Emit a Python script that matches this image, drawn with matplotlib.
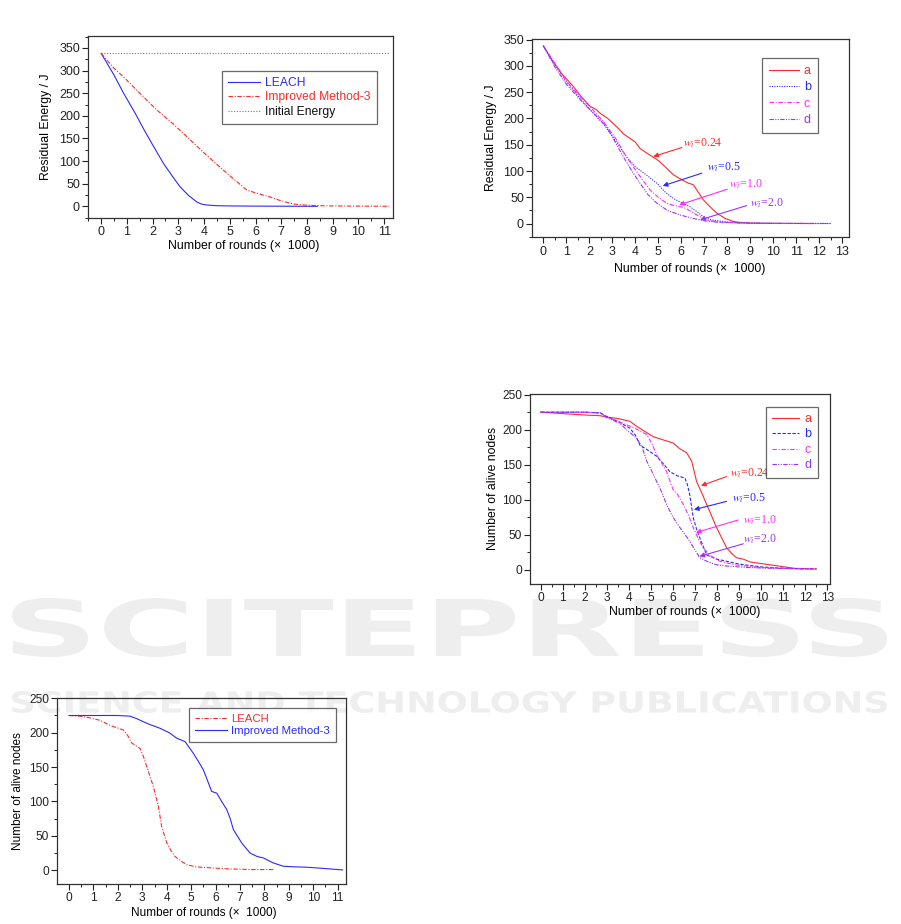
import matplotlib
matplotlib.use("Agg")
import matplotlib.pyplot as plt
from matplotlib.textpath import TextPath
from matplotlib.patches import PathPatch
from matplotlib.font_manager import FontProperties
from matplotlib.transforms import Affine2D
from matplotlib.ticker import MultipleLocator

plt.rcParams["font.family"] = ["Liberation Sans", "DejaVu Sans"]
plt.rcParams["mathtext.fontset"] = "stix"

# ================== DATA ==================

# residual energy, LEACH vs improved method
leach_x = [0, 0.5, 0.87, 1.3, 1.64, 2.0, 2.42, 2.8, 3.07, 3.4, 3.71, 3.9, 4.1, 4.5, 5, 6, 7, 8, 8.4]
leach_e = [338, 290, 250, 208, 172, 136, 95, 64, 43, 24, 10, 5, 3, 1.5, 1, 0.6, 0.4, 0.2, 0.1]
imp_x = [0, 0.5, 0.87, 1.5, 2.16, 2.8, 3.33, 4.0, 4.75, 5.2, 5.66, 6.1, 6.56, 7.0, 7.5, 8.0, 8.5, 9, 10, 11.2]
imp_e = [338, 305, 286, 250, 213, 182, 154, 118, 80, 58, 36, 28, 21, 12, 5, 2.5, 1.5, 1, 0.5, 0.3]
init_x = [0, 11.2]
init_e = [338, 338]

# residual energy for different w_i
ea_x = [0, 0.37, 0.8, 1.3, 1.6, 2.03, 2.3, 2.46, 2.8, 3.19, 3.5, 3.77, 4.0, 4.2, 4.5, 4.86, 5.0, 5.3,
        5.65, 6.0, 6.3, 6.52, 6.7, 6.96, 7.2, 7.54, 7.9, 8.26, 8.6, 9.0, 9.5, 10.5, 11.7]
ea_y = [338, 311, 285, 261, 244, 223, 217, 210, 200, 184, 170, 162, 155, 143, 134, 124, 120, 108,
        93, 84, 77, 74, 62, 45, 34, 20, 10, 4, 2, 1, 0.5, 0.3, 0.2]
eb_x = [0, 0.5, 1.0, 1.5, 2.0, 2.6, 3.19, 3.6, 4.0, 4.5, 4.93, 5.3, 5.65, 6.0, 6.38, 6.7, 6.96, 7.3,
        8.0, 9, 10.5, 12.5]
eb_y = [338, 303, 270, 243, 218, 190, 155, 128, 108, 92, 77, 60, 48, 40, 32, 22, 13, 7,
        3, 1, 0.4, 0.2]
ec_x = [0, 0.5, 1.0, 1.5, 2.03, 2.6, 3.19, 3.5, 3.91, 4.3, 4.64, 5.0, 5.36, 5.7, 6.09, 6.4, 6.67,
        7.1, 7.6, 8.5, 10, 12.0]
ec_y = [338, 305, 272, 246, 222, 195, 159, 135, 108, 84, 64, 50, 39, 34, 31, 24, 16.5,
        7, 3, 1, 0.4, 0.2]
ed_x = [0, 0.5, 1.0, 1.74, 2.3, 2.76, 3.0, 3.48, 3.85, 4.2, 4.55, 4.93, 5.4, 5.94, 6.5, 6.96, 7.5,
        8.5, 10, 12.5]
ed_y = [338, 298, 265, 229, 205, 184, 165, 127, 100, 77, 55, 39, 25, 16.5, 10, 5.7, 3,
        1.5, 0.5, 0.2]

# alive nodes for different w_i
na_x = [0, 0.5, 1.0, 1.5, 2.0, 2.69, 3.0, 3.5, 4.05, 4.3, 4.5, 4.8, 5.11, 5.5, 6.01, 6.3, 6.62,
        6.85, 7.07, 7.3, 7.53, 7.75, 7.98, 8.2, 8.44, 8.7, 8.89, 9.2, 9.5, 9.95, 10.4, 10.85, 11.5, 12.5]
na_y = [225, 224, 223, 222, 221, 220, 218, 216, 212, 206, 202, 196, 190, 186, 181, 173, 167,
        155, 126, 110, 93, 77, 60, 46, 31, 22, 17, 15, 11, 9, 7, 5, 2, 1]
nb_x = [0, 1.0, 2.0, 2.7, 2.99, 3.5, 4.05, 4.3, 4.5, 4.9, 5.26, 5.6, 5.86, 6.2, 6.54, 6.65, 6.76,
        6.92, 7.07, 7.22, 7.53, 8.0, 8.44, 9.0, 10, 11, 12.5]
nb_y = [225, 225, 225, 224, 219, 212, 202, 192, 178, 170, 162, 150, 140, 134, 131, 122, 107,
        74, 58, 45, 21, 15, 12, 8, 4, 2, 1]
nc_x = [0, 1.0, 2.0, 2.7, 3.0, 3.5, 3.9, 4.4, 4.81, 5.05, 5.26, 5.5, 5.71, 6.01, 6.2, 6.47, 6.7,
        6.92, 7.15, 7.37, 7.7, 8.13, 8.8, 10, 11, 12.5]
nc_y = [225, 225, 225, 224, 218, 212, 207, 200, 193, 180, 164, 152, 140, 114, 108, 93, 78,
        60, 44, 31, 20, 12, 7, 3, 2, 1]
nd_x = [0, 1.0, 2.0, 2.7, 3.0, 3.6, 4.0, 4.35, 4.6, 4.81, 5.05, 5.26, 5.5, 5.71, 6.0, 6.32, 6.55,
        6.77, 7.0, 7.22, 7.6, 7.98, 8.5, 9.5, 10.5, 12.0]
nd_y = [225, 225, 225, 224, 217, 209, 197, 188, 175, 155, 140, 126, 110, 93, 75, 60, 50,
        40, 28, 17, 11, 7, 5, 3, 2, 1]

# alive nodes, LEACH vs improved method
nleach_x = [0, 0.45, 0.8, 1.27, 1.6, 1.81, 2.22, 2.4, 2.57, 2.91, 3.05, 3.18, 3.45, 3.66, 3.79,
            4.0, 4.15, 4.34, 4.6, 4.82, 5.2, 5.77, 6.5, 7.5, 8.4]
nleach_y = [225, 224, 222, 218, 212, 209, 204, 196, 185, 177, 165, 151, 122, 93, 64,
            40, 30, 20, 13, 8, 5, 3.5, 2, 1, 1]
nimp_x = [0, 1.0, 2.0, 2.5, 2.8, 3.04, 3.3, 3.72, 4.1, 4.41, 4.75, 5.09, 5.3, 5.5, 5.84, 6.05,
          6.25, 6.46, 6.6, 6.73, 7.07, 7.41, 7.7, 7.95, 8.36, 8.77, 9.2, 9.73, 10.3, 11.0, 11.2]
nimp_y = [225, 225, 225, 224, 220, 216, 212, 206.5, 200, 192, 187, 170, 158, 146, 114.6, 112,
          100, 88, 75, 59, 39.7, 25, 20, 18, 10.7, 5.8, 5, 4.4, 3, 1, 0.5]

w_labels = ["0.24", "0.5", "1.0", "2.0"]
# (text x, text y, arrow tail x, tail y, head x, head y)
energy_notes = [(6.09, 153, 6.02, 144.6, 4.78, 127.5),
                (7.10, 108, 6.89, 95.9, 5.19, 71.7),
                (8.09, 74, 8.0, 65.4, 5.91, 35.6),
                (8.99, 39, 8.84, 34.3, 6.81, 7)]
nodes_notes = [(8.58, 138, 8.43, 133, 7.27, 120),
               (8.66, 102, 8.43, 97.6, 6.95, 85.7),
               (9.16, 71, 8.96, 71, 7.04, 53),
               (9.16, 43, 9.19, 37, 7.2, 19)]

RED = "#ff2a2a"
BLUE = "#2a2aff"
MAG = "#ff2aff"
PUR = "#9a33ff"
W_COLORS = [RED, BLUE, MAG, PUR]
DASHDOT = (0, (4, 1.5, 1, 1.5))
DASHDOTDOT = (0, (4, 1.2, 1, 1.2, 1, 1.2))

W, H = 901, 924
fig = plt.figure(figsize=(W / 100, H / 100), dpi=100)


def px_axes(x0, y0, x1, y1, tick_fs):
    ax = fig.add_axes([x0 / W, 1 - y1 / H, (x1 - x0) / W, (y1 - y0) / H])
    ax.set_facecolor("none")
    for s in ax.spines.values():
        s.set_color("#333333")
        s.set_linewidth(0.9)
    ax.tick_params(which="major", direction="out", length=4, width=0.8, labelsize=tick_fs, pad=2,
                   colors="#222222")
    ax.tick_params(which="minor", direction="out", length=2.2, width=0.7, colors="#222222")
    ax.xaxis.set_minor_locator(MultipleLocator(0.5))
    ax.yaxis.set_minor_locator(MultipleLocator(25))
    ax.yaxis.set_major_locator(MultipleLocator(50))
    ax.xaxis.set_major_locator(MultipleLocator(1))
    return ax


def style_legend(ax, anchor, fs, handlelength, colors, spacing=0.3, pad=0.6):
    leg = ax.legend(loc="upper right", bbox_to_anchor=anchor, fontsize=fs, frameon=True,
                    fancybox=False, edgecolor="#444444", handlelength=handlelength,
                    handletextpad=0.4, labelspacing=spacing, borderpad=pad, borderaxespad=0)
    leg.get_frame().set_linewidth(0.9)
    for t, c in zip(leg.get_texts(), colors):
        t.set_color(c)
    return leg


def annotate_w(ax, notes, fs):
    for (tx, ty, ax0, ay0, hx, hy), lab, c in zip(notes, w_labels, W_COLORS):
        ax.text(tx, ty, r"$w_i$=" + lab, color=c, fontsize=fs, ha="left", va="center",
                family="Liberation Serif")
        ax.annotate("", xy=(hx, hy), xytext=(ax0, ay0),
                    arrowprops=dict(arrowstyle="-|>", color=c, lw=0.8, mutation_scale=7,
                                    shrinkA=0, shrinkB=0))


def watermark(s, x0, y0, x1, y1):
    tp = TextPath((0, 0), s, size=100, prop=FontProperties(family="DejaVu Sans", weight="bold"))
    ext = tp.get_extents()
    tr = (Affine2D().translate(-ext.x0, -ext.y0)
          .scale((x1 - x0) / ext.width / W, (y1 - y0) / ext.height / H)
          .translate(x0 / W, 1 - y1 / H))
    patch = PathPatch(tr.transform_path(tp), facecolor="#eeeeee", edgecolor="none",
                      transform=fig.transFigure, zorder=-5)
    fig.add_artist(patch)


# ================== WATERMARK ==================

watermark("SCITEPRESS", 12, 598, 887, 657)
watermark("SCIENCE AND TECHNOLOGY PUBLICATIONS", 12, 691, 887, 713)

# ================== ENERGY: LEACH vs IMPROVED ==================

ax1 = px_axes(88.3, 35.7, 392.7, 217.7, 9)
ax1.plot(leach_x, leach_e, color=BLUE, lw=0.8, label="LEACH")
ax1.plot(imp_x, imp_e, color=RED, lw=0.8, linestyle=DASHDOT, label="Improved Method-3")
ax1.plot(init_x, init_e, color="#777777", lw=0.8, linestyle=(0, (1, 1.5)), label="Initial Energy")
ax1.set_xlim(-0.5, 11.33)
ax1.set_ylim(-25, 377)
ax1.set_xlabel("Number of rounds (\u00d7  1000)", fontsize=8.8)
ax1.set_ylabel("Residual Energy / J", fontsize=8.8)
ax1.xaxis.set_label_coords(0.511, -0.125)
ax1.yaxis.set_label_coords(-0.12, 0.5)
style_legend(ax1, (0.947, 0.806), 8.7, 2.7, [BLUE, RED, "#111111"], spacing=0.2, pad=0.5)

# ================== ENERGY: DIFFERENT W ==================

ax2 = px_axes(532.3, 39, 849, 237.3, 9)
ax2.plot(ea_x, ea_y, color=RED, lw=0.8, label="a")
ax2.plot(eb_x, eb_y, color=BLUE, lw=0.8, linestyle=(0, (1, 1.2)), label="b")
ax2.plot(ec_x, ec_y, color=MAG, lw=0.8, linestyle=DASHDOT, label="c")
ax2.plot(ed_x, ed_y, color=PUR, lw=0.8, linestyle=DASHDOTDOT, label="d")
ax2.set_xlim(-0.48, 13.29)
ax2.set_ylim(-26, 351)
ax2.set_xlabel("Number of rounds (\u00d7  1000)", fontsize=8.8)
ax2.set_ylabel("Residual Energy / J", fontsize=8.8)
ax2.xaxis.set_label_coords(0.496, -0.13)
ax2.yaxis.set_label_coords(-0.112, 0.5)
style_legend(ax2, (0.901, 0.903), 9, 2.4, W_COLORS, spacing=0.35, pad=0.55)
annotate_w(ax2, energy_notes, 8.5)

# ================== ALIVE NODES: DIFFERENT W ==================

ax3 = px_axes(530.3, 394, 830, 583.7, 8.6)
ax3.plot(na_x, na_y, color=RED, lw=0.8, label="a")
ax3.plot(nb_x, nb_y, color=BLUE, lw=0.8, linestyle=(0, (3, 1.5)), label="b")
ax3.plot(nc_x, nc_y, color=MAG, lw=0.8, linestyle=DASHDOT, label="c")
ax3.plot(nd_x, nd_y, color=PUR, lw=0.8, linestyle=DASHDOTDOT, label="d")
ax3.set_xlim(-0.47, 13.12)
ax3.set_ylim(-20, 251)
ax3.set_xlabel("Number of rounds (\u00d7  1000)", fontsize=8.8)
ax3.set_ylabel("Number of alive nodes", fontsize=8.8)
ax3.xaxis.set_label_coords(0.516, -0.12)
ax3.yaxis.set_label_coords(-0.105, 0.5)
style_legend(ax3, (0.959, 0.933), 9, 2.2, W_COLORS, spacing=0.28, pad=0.5)
annotate_w(ax3, nodes_notes, 8.5)

# ================== ALIVE NODES: LEACH vs IMPROVED ==================

ax4 = px_axes(57.3, 698.3, 346, 884, 8.6)
ax4.plot(nleach_x, nleach_y, color=RED, lw=0.8, linestyle=DASHDOT, label="LEACH")
ax4.plot(nimp_x, nimp_y, color=BLUE, lw=0.8, label="Improved Method-3")
ax4.set_xlim(-0.48, 11.34)
ax4.set_ylim(-20, 250)
ax4.set_xlabel("Number of rounds (\u00d7  1000)", fontsize=8.5)
ax4.set_ylabel("Number of alive nodes", fontsize=8.5)
ax4.xaxis.set_label_coords(0.509, -0.125)
ax4.yaxis.set_label_coords(-0.115, 0.5)
style_legend(ax4, (0.965, 0.946), 8.2, 2.8, [RED, BLUE], spacing=0.2, pad=0.5)

fig.savefig("out.png", dpi=100, facecolor="white")
